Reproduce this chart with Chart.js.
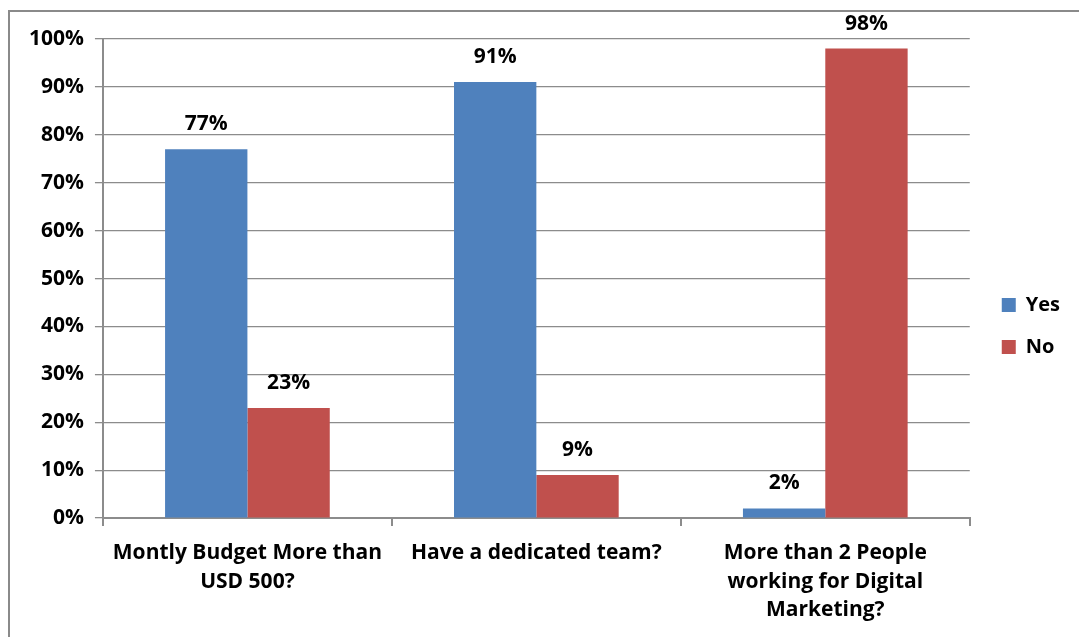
<!DOCTYPE html>
<html>
<head>
<meta charset="utf-8">
<script src="https://cdn.jsdelivr.net/npm/chart.js@4"></script>
<style>
  html, body { margin: 0; padding: 0; background: #fff; }
  #frame {
    position: absolute; left: 8px; top: 10px; width: 1200px; height: 700px;
    border-left: 2px solid #8a8a8a; border-top: 2px solid #8a8a8a;
  }
  #wrap { position: absolute; left: 0; top: 0; width: 1079px; height: 637px; }
</style>
</head>
<body>
<div id="frame"></div>
<div id="wrap"><canvas id="chart"></canvas></div>
<script>
const categories = [
  ['Montly Budget More than', 'USD 500?'],
  'Have a dedicated team?',
  ['More than 2 People', 'working for Digital', 'Marketing?']
];
const yesValues = [77, 91, 2];
const noValues = [23, 9, 98];
const seriesNames = ['Yes', 'No'];

const FONT = '"Open Sans", "DejaVu Sans", sans-serif';

// simple labels above the bars
const barLabels = {
  id: 'barLabels',
  afterDatasetsDraw(chart) {
    const ctx = chart.ctx;
    ctx.save();
    ctx.font = '700 21px ' + FONT;
    ctx.fillStyle = '#000';
    ctx.textAlign = 'center';
    ctx.textBaseline = 'middle';
    chart.data.datasets.forEach((ds, i) => {
      chart.getDatasetMeta(i).data.forEach((bar, j) => {
        ctx.fillText(ds.data[j] + '%', bar.x, bar.y - 25);
      });
    });
    ctx.restore();
  }
};

// nudge the legend a bit up and right, like the original
const legendNudge = {
  id: 'legendNudge',
  afterLayout(chart) {
    const lg = chart.legend;
    lg.top -= 12; lg.bottom -= 12;
    lg.left += 10; lg.right += 10;
  }
};

new Chart(document.getElementById('chart').getContext('2d'), {
  type: 'bar',
  data: {
    labels: categories,
    datasets: [
      { label: seriesNames[0], data: yesValues, backgroundColor: '#4F81BD', categoryPercentage: 0.57, barPercentage: 1 },
      { label: seriesNames[1], data: noValues, backgroundColor: '#C0504D', categoryPercentage: 0.57, barPercentage: 1 }
    ]
  },
  options: {
    responsive: true,
    maintainAspectRatio: false,
    animation: false,
    layout: { padding: { left: 18, top: 39, right: 19, bottom: 0 } },
    plugins: {
      tooltip: { enabled: false },
      legend: {
        position: 'right',
        labels: {
          font: { family: FONT, size: 20, weight: 700 },
          color: '#000',
          boxWidth: 14,
          boxHeight: 14,
          padding: 22
        }
      }
    },
    scales: {
      x: {
        grid: { offset: true, drawOnChartArea: false, color: '#8c8c8c', tickLength: 8, lineWidth: 2 },
        border: { color: '#8c8c8c', width: 2 },
        ticks: { color: '#000', font: { family: FONT, size: 21, weight: 700, lineHeight: 1.38 }, padding: 12, maxRotation: 0 }
      },
      y: {
        min: 0, max: 100,
        grid: { color: '#8c8c8c', tickLength: 8, lineWidth: 1.3 },
        border: { color: '#8c8c8c', width: 2 },
        ticks: { stepSize: 10, color: '#000', font: { family: FONT, size: 21, weight: 700 }, padding: 11,
          callback: v => v + '%' }
      }
    }
  },
  plugins: [barLabels, legendNudge]
});
</script>
</body>
</html>
